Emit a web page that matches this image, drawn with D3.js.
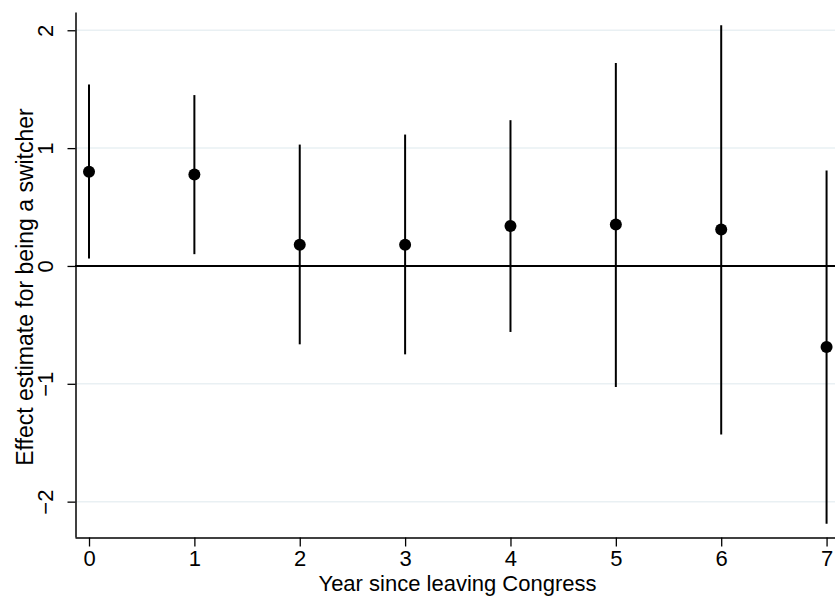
<!DOCTYPE html>
<html>
<head>
<meta charset="utf-8">
<script src="https://cdn.jsdelivr.net/npm/d3@7"></script>
<style>
  body { margin: 0; background: #fff; }
  text { font-family: "Liberation Sans", Arial, Helvetica, sans-serif; fill: #000; }
</style>
</head>
<body>
<div id="chart"></div>
<script>
const years = [0, 1, 2, 3, 4, 5, 6, 7];
const estimates = [0.80, 0.776, 0.18, 0.18, 0.34, 0.351, 0.309, -0.688];
const lowerCI = [0.063, 0.10, -0.665, -0.75, -0.56, -1.027, -1.431, -2.187];
const upperCI = [1.54, 1.45, 1.03, 1.115, 1.237, 1.723, 2.043, 0.81];
const yTicks = [-2, -1, 0, 1, 2];
const gridValues = [-2, -1, 1, 2];

const width = 835, height = 597;

const svg = d3.select("#chart").append("svg")
    .attr("width", width)
    .attr("height", height);

const x = d3.scaleLinear()
    .domain([-0.133, 7.08])
    .range([75, 835]);

const y = d3.scaleLinear()
    .domain([-2.3, 2.155])
    .range([537, 12]);

const data = years.map((d, i) => ({ year: d, est: estimates[i], lo: lowerCI[i], hi: upperCI[i] }));

// light grid lines
svg.append("g").selectAll("line")
    .data(gridValues)
    .join("line")
    .attr("x1", 76)
    .attr("x2", width)
    .attr("y1", d => y(d))
    .attr("y2", d => y(d))
    .attr("stroke", "#e9f0f3")
    .attr("stroke-width", 1.5);

// zero line
svg.append("line")
    .attr("x1", 75)
    .attr("x2", width)
    .attr("y1", y(0))
    .attr("y2", y(0))
    .attr("stroke", "#000")
    .attr("stroke-width", 2);

// y axis
const yAxisGroup = svg.append("g")
    .attr("transform", "translate(75.5,0)")
    .call(d3.axisLeft(y).tickValues(yTicks).tickSize(8).tickSizeOuter(0).tickFormat(d => d < 0 ? "\u2212" + Math.abs(d) : d));

yAxisGroup.select(".domain").attr("stroke", "#000").attr("stroke-width", 1.5);
yAxisGroup.selectAll("line").attr("stroke", "#000").attr("stroke-width", 1.3);
yAxisGroup.selectAll("text")
    .attr("x", null).attr("dy", null)
    .attr("transform", "translate(-23,0) rotate(-90)")
    .attr("text-anchor", "middle")
    .style("font-size", "22px")
    .style("font-family", "'Liberation Sans', Arial, sans-serif");

// x axis
const xAxisGroup = svg.append("g")
    .attr("transform", "translate(0,537.5)")
    .call(d3.axisBottom(x).tickValues(years).tickSize(9).tickSizeOuter(0));

xAxisGroup.select(".domain").attr("stroke", "#000").attr("stroke-width", 1.5);
xAxisGroup.selectAll("line").attr("stroke", "#000").attr("stroke-width", 1.3);
xAxisGroup.selectAll("text")
    .attr("y", 28.5).attr("dy", null)
    .style("font-size", "22px")
    .style("font-family", "'Liberation Sans', Arial, sans-serif");

// axis titles
svg.append("text")
    .attr("x", 457.5)
    .attr("y", 590.5)
    .attr("text-anchor", "middle")
    .style("font-size", "22px")
    .text("Year since leaving Congress");

svg.append("text")
    .attr("transform", "translate(33,287) rotate(-90)")
    .attr("text-anchor", "middle")
    .style("font-size", "23px")
    .text("Effect estimate for being a switcher");

// confidence intervals
svg.append("g").selectAll("line")
    .data(data)
    .join("line")
    .attr("x1", d => x(d.year))
    .attr("x2", d => x(d.year))
    .attr("y1", d => y(d.lo))
    .attr("y2", d => y(d.hi))
    .attr("stroke", "#000")
    .attr("stroke-width", 2);

// point estimates
svg.append("g").selectAll("circle")
    .data(data)
    .join("circle")
    .attr("cx", d => x(d.year))
    .attr("cy", d => y(d.est))
    .attr("r", 6)
    .attr("fill", "#000");
</script>
</body>
</html>
